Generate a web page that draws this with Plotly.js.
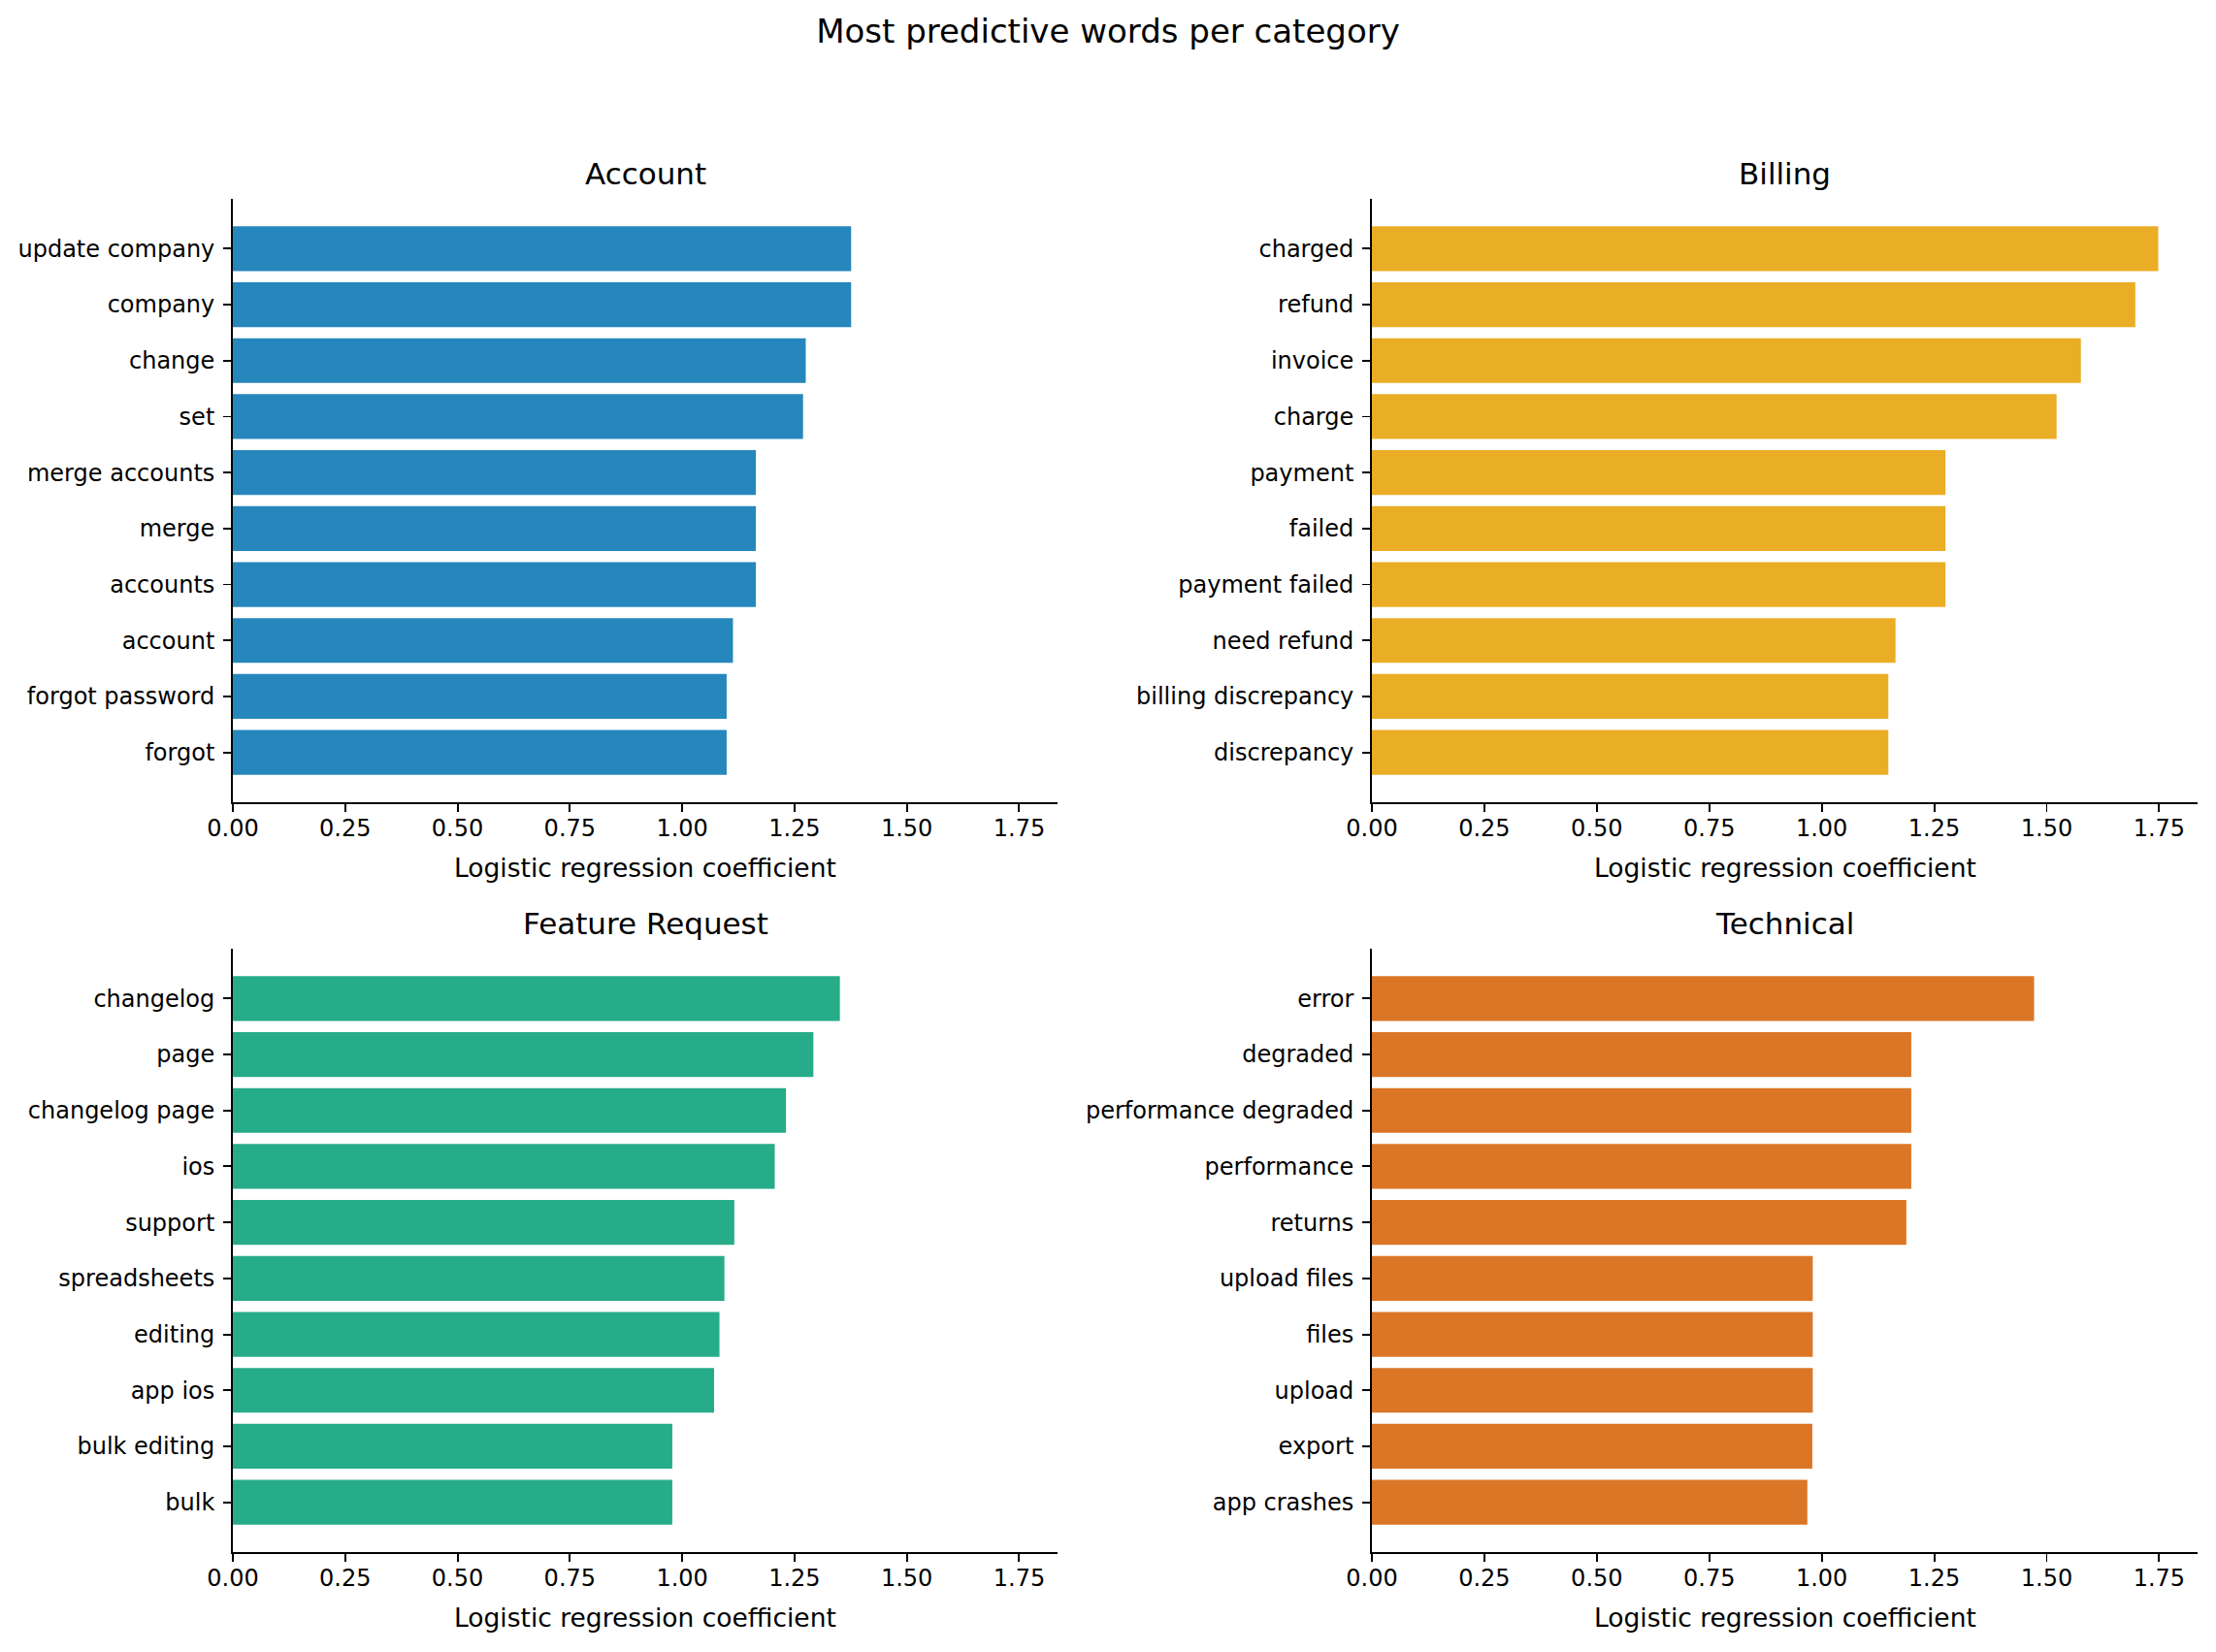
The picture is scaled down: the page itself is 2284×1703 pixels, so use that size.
<!DOCTYPE html>
<html>
<head>
<meta charset="utf-8">
<script src="https://cdn.plot.ly/plotly-3.0.1.min.js"></script>
<style>html,body{margin:0;padding:0;background:#fff;}#chart{width:2284px;height:1703px;}</style>
</head>
<body>
<div id="chart"></div>
<script>
// ---- Data ----
const accountWords = ["update company","company","change","set","merge accounts","merge","accounts","account","forgot password","forgot"];
const accountCoef  = [1.376,1.376,1.275,1.269,1.164,1.164,1.164,1.113,1.099,1.099];

const billingWords = ["charged","refund","invoice","charge","payment","failed","payment failed","need refund","billing discrepancy","discrepancy"];
const billingCoef  = [1.748,1.697,1.576,1.522,1.275,1.275,1.275,1.164,1.148,1.148];

const featureWords = ["changelog","page","changelog page","ios","support","spreadsheets","editing","app ios","bulk editing","bulk"];
const featureCoef  = [1.351,1.292,1.231,1.206,1.116,1.094,1.083,1.071,0.978,0.978];

const technicalWords = ["error","degraded","performance degraded","performance","returns","upload files","files","upload","export","app crashes"];
const technicalCoef  = [1.472,1.199,1.199,1.199,1.188,0.980,0.980,0.980,0.979,0.968];

const panelTitles = ["Account","Billing","Feature Request","Technical"];
const panelColors = ["#0072B2","#E69F00","#009E73","#D55E00"];
const xTickVals = [0,0.25,0.5,0.75,1.0,1.25,1.5,1.75];
const xLabel = "Logistic regression coefficient";
const mainTitle = "Most predictive words per category";

// ---- Build ----
const W = 2284, H = 1703;
const FONT = "DejaVu Sans, Verdana, sans-serif";
const panels = [
  {words: accountWords, coef: accountCoef},
  {words: billingWords, coef: billingCoef},
  {words: featureWords, coef: featureCoef},
  {words: technicalWords, coef: technicalCoef}
];
// plot areas in pixels [x0, x1, yTop, yBottom]
const boxes = [
  [240,1090,205,827],
  [1414,2265,205,827],
  [240,1090,978,1600],
  [1414,2265,978,1600]
];
const allMax = Math.max(...accountCoef, ...billingCoef, ...featureCoef, ...technicalCoef);
const xRange = [0, allMax*1.05];

const data = [];
const layout = {
  width: W, height: H,
  margin: {l:0, r:0, t:0, b:0},
  paper_bgcolor: "#ffffff", plot_bgcolor: "#ffffff",
  showlegend: false,
  bargap: 0.2,
  font: {family: FONT, color: "#000000", size: 24},
  title: {text: mainTitle, x: 0.5, xanchor: "center", y: 1 - 32/H, yanchor: "middle", yref: "container",
          font: {family: FONT, size: 34, color: "#000"}},
  annotations: []
};

panels.forEach((p, i) => {
  const n = i + 1;
  const xa = "x" + (n === 1 ? "" : n), ya = "y" + (n === 1 ? "" : n);
  const b = boxes[i];
  data.push({
    type: "bar", orientation: "h",
    x: p.coef, y: p.words,
    xaxis: xa, yaxis: ya,
    marker: {color: panelColors[i], opacity: 0.85, line: {width: 0}},
    hoverinfo: "x+y"
  });
  const xKey = "xaxis" + (n === 1 ? "" : n), yKey = "yaxis" + (n === 1 ? "" : n);
  const nCat = p.words.length;
  layout[xKey] = {
    domain: [b[0]/W, b[1]/W], anchor: ya,
    range: xRange, tickvals: xTickVals, tickformat: ".2f",
    showgrid: false, zeroline: false,
    showline: true, linecolor: "#000", linewidth: 1.9,
    ticks: "outside", ticklen: 8, tickwidth: 1.9, tickcolor: "#000",
    ticklabelstandoff: -4,
    tickfont: {family: FONT, size: 24, color: "#000"},
    fixedrange: true
  };
  layout[yKey] = {
    domain: [1 - b[3]/H, 1 - b[2]/H], anchor: xa,
    type: "category", categoryorder: "array", categoryarray: p.words,
    range: [nCat - 1 + 0.89, -0.89],
    showgrid: false, zeroline: false,
    showline: true, linecolor: "#000", linewidth: 1.9,
    ticks: "outside", ticklen: 8, tickwidth: 1.9, tickcolor: "#000",
    ticklabelstandoff: 4,
    tickfont: {family: FONT, size: 24, color: "#000"},
    fixedrange: true
  };
  // subplot title
  layout.annotations.push({
    text: panelTitles[i], xref: "paper", yref: "paper",
    x: (b[0] + b[1]) / 2 / W, y: 1 - (b[2] - 26) / H,
    xanchor: "center", yanchor: "middle", showarrow: false,
    font: {family: FONT, size: 31, color: "#000"}
  });
  // x-axis label
  layout.annotations.push({
    text: xLabel, xref: "paper", yref: "paper",
    x: (b[0] + b[1]) / 2 / W, y: 1 - (b[3] + 67) / H,
    xanchor: "center", yanchor: "middle", showarrow: false,
    font: {family: FONT, size: 26.5, color: "#000"}
  });
});

Plotly.newPlot("chart", data, layout, {displayModeBar: false, staticPlot: true});
</script>
</body>
</html>
